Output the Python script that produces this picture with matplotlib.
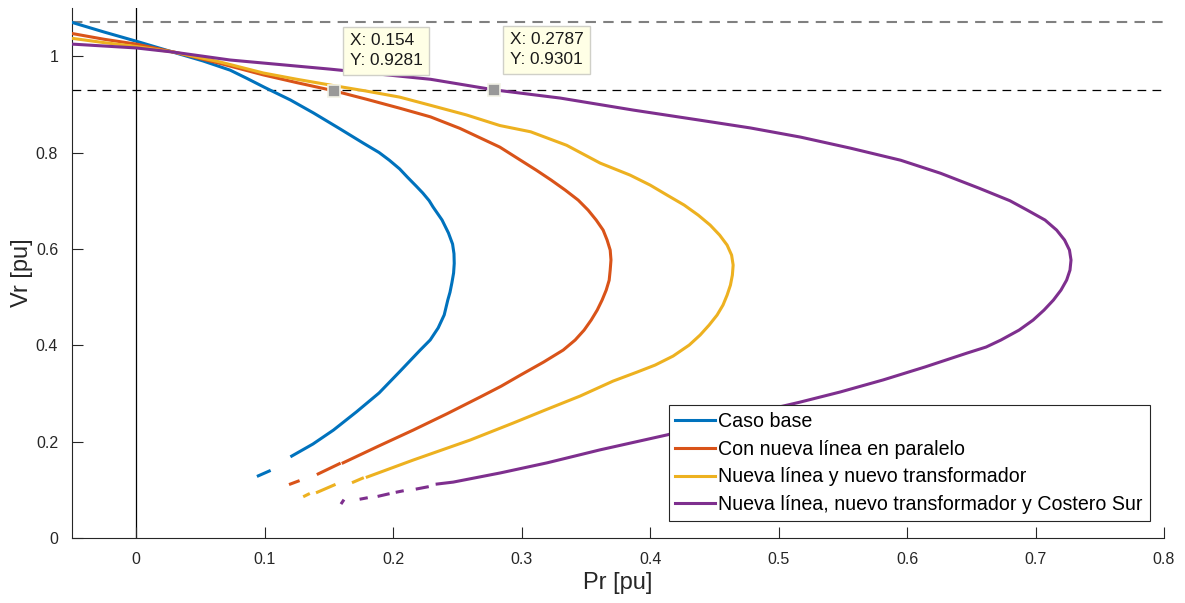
import numpy as np
import matplotlib
matplotlib.use("Agg")
import matplotlib.pyplot as plt

plt.rcParams['font.family'] = ['Liberation Sans', 'DejaVu Sans']

nan = np.nan

# P-V curves (NaN = gaps in the low-voltage tail)
p_base = [-0.050, -0.025, 0.000, 0.029, 0.052, 0.073, 0.086, 0.100, 0.120, 0.138, 0.158,
          0.177, 0.189, 0.197, 0.205, 0.211, 0.218, 0.223, 0.228, 0.231, 0.238, 0.243,
          0.2462, 0.2473, 0.2475, 0.2470, 0.2457, 0.2442, 0.2425, 0.2397, 0.2350, 0.2288,
          0.2210, 0.2055, 0.189, 0.1715, 0.1535, 0.1375, 0.121,
          nan, 0.1035, 0.095]
v_base = [1.070, 1.050, 1.031, 1.008, 0.990, 0.971, 0.954, 0.935, 0.909, 0.882, 0.850,
          0.819, 0.800, 0.784, 0.766, 0.749, 0.730, 0.716, 0.700, 0.687, 0.660, 0.633,
          0.610, 0.590, 0.570, 0.550, 0.530, 0.510, 0.494, 0.463, 0.436, 0.411,
          0.390, 0.3465, 0.301, 0.262, 0.224, 0.195, 0.170,
          nan, 0.139, 0.129]

p_linea = [-0.050, -0.025, 0.000, 0.030, 0.065, 0.099, 0.125, 0.154, 0.180, 0.205, 0.229,
           0.252, 0.283, 0.299, 0.3113, 0.323, 0.3339, 0.344, 0.3517, 0.358, 0.3634,
           0.3665, 0.3689, 0.3695, 0.3689, 0.3681, 0.3658, 0.3626, 0.3588, 0.3541, 0.3486,
           0.3416, 0.3323, 0.317, 0.299, 0.284, 0.268, 0.242, 0.2156, 0.188, 0.161,
           nan, 0.158, 0.1416, nan, 0.126, 0.120]
v_linea = [1.047, 1.035, 1.025, 1.008, 0.985, 0.961, 0.945, 0.928, 0.910, 0.892, 0.874,
           0.850, 0.8112, 0.7842, 0.7635, 0.7427, 0.722, 0.7012, 0.6805, 0.6598, 0.639,
           0.6183, 0.5975, 0.577, 0.556, 0.535, 0.5145, 0.4938, 0.473, 0.4523, 0.4315,
           0.4108, 0.390, 0.365, 0.338, 0.315, 0.293, 0.258, 0.224, 0.190, 0.156,
           nan, 0.154, 0.133, nan, 0.118, 0.112]

p_trafo = [-0.050, -0.025, 0.000, 0.030, 0.065, 0.099, 0.125, 0.151, 0.178, 0.205, 0.229,
           0.257, 0.283, 0.307, 0.335, 0.3611, 0.3844, 0.400, 0.4132, 0.4265, 0.4374, 0.4467,
           0.4541, 0.4599, 0.4634, 0.4646, 0.4640, 0.4625, 0.4599, 0.4567, 0.4521, 0.4459,
           0.4389, 0.4304, 0.4179, 0.4039, 0.3899, 0.3712, 0.3455, 0.3183, 0.2934, 0.2599,
           0.2156, 0.1798,
           nan, 0.176, 0.169, nan, 0.154, 0.141, nan, 0.134, 0.131]
v_trafo = [1.037, 1.028, 1.020, 1.008, 0.988, 0.965, 0.952, 0.940, 0.928, 0.915, 0.898,
           0.878, 0.856, 0.843, 0.815, 0.778, 0.7531, 0.7324, 0.7116, 0.6909, 0.6701, 0.6494,
           0.6286, 0.6079, 0.5871, 0.5664, 0.5456, 0.5249, 0.5041, 0.4834, 0.4627, 0.4419,
           0.4212, 0.4004, 0.3776, 0.3589, 0.3444, 0.3257, 0.2946, 0.2656, 0.2386, 0.2033,
           0.1618, 0.1266,
           nan, 0.124, 0.116, nan, 0.110, 0.095, nan, 0.091, 0.087]

p_costero = [-0.050, 0.000, 0.030, 0.073, 0.151, 0.229, 0.2787, 0.330, 0.387, 0.439, 0.478,
             0.517, 0.556, 0.595, 0.626, 0.656, 0.680, 0.6935, 0.7074, 0.7164, 0.7226,
             0.7264, 0.7276, 0.7268, 0.7242, 0.7198, 0.7139, 0.7066, 0.6981, 0.6872, 0.673,
             0.6615, 0.6467, 0.614, 0.5813, 0.5479, 0.5167, 0.470, 0.4132, 0.3611, 0.3198,
             0.2833, 0.2467, 0.2342,
             nan, 0.2265, 0.2187, nan, 0.207, 0.2031, nan, 0.196, 0.189, nan, 0.179, 0.175,
             nan, 0.161, 0.160]
v_costero = [1.025, 1.017, 1.008, 0.992, 0.973, 0.952, 0.930, 0.913, 0.888, 0.867, 0.851,
             0.832, 0.809, 0.784, 0.757, 0.726, 0.700, 0.6805, 0.6598, 0.639, 0.6183,
             0.5975, 0.5768, 0.556, 0.5353, 0.5145, 0.4938, 0.473, 0.4523, 0.4315, 0.4108,
             0.3963, 0.3838, 0.355, 0.328, 0.303, 0.282, 0.253, 0.214, 0.183, 0.156,
             0.135, 0.116, 0.112,
             nan, 0.106, 0.102, nan, 0.0975, 0.0954, nan, 0.0913, 0.087, nan, 0.083, 0.081,
             nan, 0.077, 0.073]

labels = ['Caso base', 'Con nueva línea en paralelo', 'Nueva línea y nuevo transformador',
          'Nueva línea, nuevo transformador y Costero Sur']
colors = ['#0072BD', '#D95319', '#EDB120', '#7E2F8E']

v_lim_sup = 1.07
v_lim_inf = 0.93

tips_x = [0.154, 0.2787]
tips_y = [0.9281, 0.9301]

fig = plt.figure(figsize=(11.85, 6.03), dpi=100)
ax = fig.add_axes([0.0608, 0.1078, 0.9215, 0.879])

ax.axhline(v_lim_sup, color='0.5', ls=(0, (5, 3.5)), lw=1.5, zorder=1)
ax.axhline(v_lim_inf, color='k', ls=(0, (7, 5)), lw=0.9, zorder=1)
ax.axvline(0, color='k', lw=0.9, zorder=1)

series = [(p_base, v_base), (p_linea, v_linea), (p_trafo, v_trafo), (p_costero, v_costero)]
for (p, v), lab, c in zip(series, labels, colors):
    ax.plot(p, v, color=c, lw=2.2, label=lab, zorder=3, solid_joinstyle='round')

# data tips
for tx, ty in zip(tips_x, tips_y):
    ax.plot(tx, ty, 's', ms=9, mfc='#999999', mec='#F2F2E6', mew=1.2, zorder=5)
    ax.text(tx + 0.012, ty + 0.083, f'X: {tx:g}\nY: {ty:g}', fontsize=12.4, color='#1a1a1a',
            ha='left', va='center', linespacing=1.4, zorder=6,
            bbox=dict(boxstyle='square,pad=0.4', fc='#FFFFE6', ec='#D0D0C8', lw=1))

ax.set_xlim(-0.05, 0.8)
ax.set_ylim(0, 1.1)
ax.set_xticks([0, 0.1, 0.2, 0.3, 0.4, 0.5, 0.6, 0.7, 0.8])
ax.set_xticklabels(['0', '0.1', '0.2', '0.3', '0.4', '0.5', '0.6', '0.7', '0.8'])
ax.set_yticks([0, 0.2, 0.4, 0.6, 0.8, 1.0])
ax.set_yticklabels(['0', '0.2', '0.4', '0.6', '0.8', '1'])
ax.tick_params(direction='in', length=8, width=0.8, colors='#262626', labelsize=11.5, pad=10)
for s in ['top', 'right']:
    ax.spines[s].set_visible(False)
for s in ['left', 'bottom']:
    ax.spines[s].set_color('#262626')
    ax.spines[s].set_linewidth(0.8)

ax.set_xlabel('Pr [pu]', fontsize=17, color='#262626', labelpad=4)
ax.set_ylabel('Vr [pu]', fontsize=17, color='#262626', labelpad=2)

leg = ax.legend(loc='lower right', bbox_to_anchor=(0.987, 0.032), borderaxespad=0,
                fontsize=14.1, fancybox=False, framealpha=1, edgecolor='#262626',
                handlelength=2.0, handletextpad=0.2, borderpad=0.35, labelspacing=0.45)
leg.get_frame().set_linewidth(0.8)

fig.savefig('out.png', dpi=100)
